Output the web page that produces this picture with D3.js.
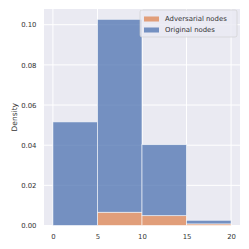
<!DOCTYPE html>
<html>
<head>
<meta charset="utf-8">
<script src="https://cdn.jsdelivr.net/npm/d3@7"></script>
<style>
  body { margin: 0; background: #fff; }
  text { font-family: "DejaVu Sans", sans-serif; fill: #333; }
</style>
</head>
<body>
<svg id="chart" width="249" height="249"></svg>
<script>
// bin edges and stacked densities (adversarial at bottom, original on top)
var binEdges = [0, 5, 10, 15, 20];
var adversarial = [0.0, 0.0066, 0.0049, 0.0008];
var original = [0.0516, 0.0961, 0.0354, 0.0018];
var xTicks = [0, 5, 10, 15, 20];
var yTicks = [0.00, 0.02, 0.04, 0.06, 0.08, 0.10];
var seriesNames = ["Adversarial nodes", "Original nodes"];
var seriesColors = ["#dd8452", "#4c72b0"];

var m = {left: 44, right: 9, top: 9, bottom: 23.5};
var w = 249 - m.left - m.right;
var h = 249 - m.top - m.bottom;

var svg = d3.select("#chart");
var g = svg.append("g").attr("transform", "translate(" + m.left + "," + m.top + ")");

var totals = original.map(function(d, i) { return d + adversarial[i]; });
var x = d3.scaleLinear().domain([-1, 21]).range([0, w]);
var y = d3.scaleLinear().domain([0, d3.max(totals) * 1.05]).range([h, 0]);

g.append("rect").attr("width", w).attr("height", h).attr("fill", "#eaeaf2");

// grid
g.selectAll(".gx").data(xTicks).enter().append("line")
  .attr("x1", function(d) { return x(d); }).attr("x2", function(d) { return x(d); })
  .attr("y1", 0).attr("y2", h)
  .attr("stroke", "#fff").attr("stroke-width", 1);
g.selectAll(".gy").data(yTicks).enter().append("line")
  .attr("y1", function(d) { return y(d); }).attr("y2", function(d) { return y(d); })
  .attr("x1", 0).attr("x2", w)
  .attr("stroke", "#fff").attr("stroke-width", 1);

// stacked bars
var bins = d3.range(binEdges.length - 1);
var layers = [
  {vals: adversarial, base: bins.map(function() { return 0; }), color: seriesColors[0]},
  {vals: original, base: adversarial, color: seriesColors[1]}
];
layers.forEach(function(layer) {
  g.selectAll(null).data(bins.filter(function(i) { return layer.vals[i] > 0; })).enter().append("rect")
    .attr("x", function(i) { return x(binEdges[i]); })
    .attr("width", function(i) { return x(binEdges[i + 1]) - x(binEdges[i]); })
    .attr("y", function(i) { return y(layer.base[i] + layer.vals[i]); })
    .attr("height", function(i) { return y(layer.base[i]) - y(layer.base[i] + layer.vals[i]); })
    .attr("fill", layer.color).attr("fill-opacity", 0.75)
    .attr("stroke", "#fff").attr("stroke-opacity", 0.75).attr("stroke-width", 0.75);
});

// axes
var xAxis = g.append("g").attr("transform", "translate(0," + h + ")")
  .call(d3.axisBottom(x).tickValues(xTicks).tickSize(0).tickPadding(8.5));
var yAxis = g.append("g")
  .call(d3.axisLeft(y).tickValues(yTicks).tickFormat(d3.format(".2f")).tickSize(0).tickPadding(7.5));
[xAxis, yAxis].forEach(function(a) {
  a.select(".domain").remove();
  a.selectAll("text").attr("font-size", "6.9px").attr("font-family", "DejaVu Sans").attr("fill", "#333");
});

svg.append("text")
  .attr("transform", "translate(14," + (m.top + h / 2) + ") rotate(-90)")
  .attr("text-anchor", "middle").attr("dy", "0.35em")
  .attr("font-size", "7.5px").text("Density");

// legend
var lg = g.append("g").attr("transform", "translate(" + (w - 100) + ",1)");
lg.append("rect").attr("width", 97).attr("height", 27).attr("rx", 2)
  .attr("fill", "#eaeaf2").attr("fill-opacity", 0.8).attr("stroke", "#ccc").attr("stroke-width", 0.6);
seriesNames.forEach(function(name, i) {
  var row = lg.append("g").attr("transform", "translate(4," + (9 + i * 11) + ")");
  row.append("rect").attr("x", 0).attr("y", -2.5).attr("width", 15).attr("height", 5)
    .attr("fill", seriesColors[i]).attr("fill-opacity", 0.75);
  row.append("text").attr("x", 21).attr("dy", "0.35em").attr("font-size", "6.9px").text(name);
});
</script>
</body>
</html>
